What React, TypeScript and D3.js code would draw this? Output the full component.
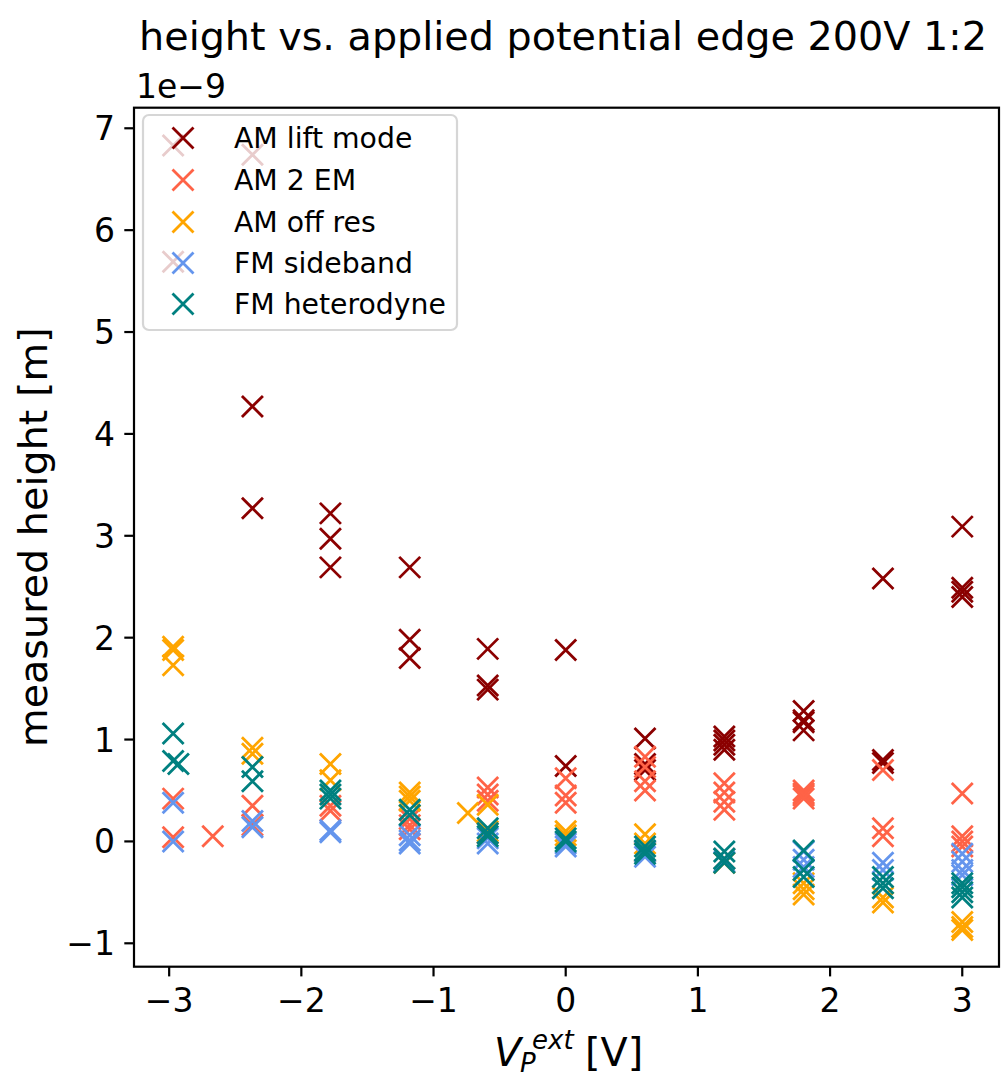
import React from "react";
import * as d3 from "d3";

// values in units of 1e-9 m (axis shows offset "1e−9")
const seriesNames = ["AM lift mode", "AM 2 EM", "AM off res", "FM sideband", "FM heterodyne"];
const seriesColors = ["#8b0000", "#ff6347", "#ffa500", "#6495ed", "#008080"];

const amLiftX = [-2.97, -2.97, -2.37, -2.37, -2.37, -1.78, -1.78, -1.78, -1.18, -1.18, -1.18, -0.59, -0.59, -0.59, 0, 0, 0.6, 0.6, 0.6, 1.2, 1.2, 1.2, 1.2, 1.8, 1.8, 1.8, 1.8, 2.4, 2.4, 2.4, 3.0, 3.0, 3.0, 3.0];
const amLiftY = [6.83, 5.69, 6.74, 4.27, 3.27, 3.22, 2.97, 2.69, 2.69, 1.98, 1.80, 1.89, 1.53, 1.49, 1.88, 0.74, 1.01, 0.76, 0.70, 1.03, 0.99, 0.95, 0.90, 1.28, 1.19, 1.17, 1.09, 2.58, 0.80, 0.77, 3.09, 2.49, 2.45, 2.40];

const am2emX = [-2.97, -2.97, -2.67, -2.37, -2.37, -1.78, -1.78, -1.18, -1.18, -1.18, -0.59, -0.59, -0.59, -0.59, 0, 0, 0, 0.6, 0.6, 0.6, 0.6, 1.2, 1.2, 1.2, 1.2, 1.8, 1.8, 1.8, 1.8, 2.4, 2.4, 2.4, 3.0, 3.0, 3.0, 3.0];
const am2emY = [0.42, 0.04, 0.05, 0.35, 0.16, 0.35, 0.30, 0.22, 0.16, 0.12, 0.53, 0.46, 0.40, 0.08, 0.62, 0.45, 0.38, 0.83, 0.73, 0.59, 0.50, 0.57, 0.48, 0.39, 0.31, 0.50, 0.47, 0.45, 0.42, 0.70, 0.13, 0.05, 0.47, 0.05, 0.00, -0.05];

const amOffX = [-2.97, -2.97, -2.97, -2.37, -2.37, -1.78, -1.78, -1.18, -1.18, -1.18, -0.74, -0.59, -0.59, 0, 0, 0.6, 0.6, 0.6, 1.2, 1.2, 1.8, 1.8, 1.8, 2.4, 2.4, 3.0, 3.0, 3.0];
const amOffY = [1.91, 1.88, 1.73, 0.92, 0.86, 0.76, 0.60, 0.48, 0.44, 0.40, 0.28, 0.36, 0.10, 0.10, 0.06, 0.07, -0.02, -0.10, -0.17, -0.21, -0.41, -0.47, -0.52, -0.55, -0.60, -0.79, -0.84, -0.87];

const fmSideX = [-2.97, -2.97, -2.37, -2.37, -1.78, -1.78, -1.18, -1.18, -1.18, -0.59, -0.59, 0, 0, 0.6, 0.6, 1.2, 1.2, 1.8, 1.8, 1.8, 2.4, 2.4, 3.0, 3.0, 3.0, 3.0];
const fmSideY = [0.38, 0.00, 0.20, 0.14, 0.11, 0.09, 0.06, 0.01, -0.02, 0.03, -0.02, -0.02, -0.05, -0.10, -0.15, -0.17, -0.20, -0.10, -0.18, -0.25, -0.21, -0.28, -0.12, -0.20, -0.28, -0.33];

const fmHetX = [-2.97, -2.97, -2.93, -2.37, -2.37, -1.78, -1.78, -1.78, -1.18, -1.18, -0.59, -0.59, -0.59, 0, 0, 0.6, 0.6, 0.6, 1.2, 1.2, 1.2, 1.8, 1.8, 1.8, 2.4, 2.4, 2.4, 3.0, 3.0, 3.0, 3.0];
const fmHetY = [1.06, 0.79, 0.76, 0.73, 0.59, 0.50, 0.46, 0.42, 0.31, 0.26, 0.13, 0.08, 0.05, 0.03, 0.00, -0.05, -0.09, -0.12, -0.10, -0.17, -0.21, -0.09, -0.28, -0.35, -0.35, -0.41, -0.46, -0.41, -0.45, -0.50, -0.55];

const xTicks = [-3, -2, -1, 0, 1, 2, 3];
const yTicks = [-1, 0, 1, 2, 3, 4, 5, 6, 7];

const seriesX = [amLiftX, am2emX, amOffX, fmSideX, fmHetX];
const seriesY = [amLiftY, am2emY, amOffY, fmSideY, fmHetY];

const W = 1001;
const H = 1079;
const L = 134, R = 999, T = 107.7, B = 966.7;
const FONT = "DejaVu Sans, Liberation Sans, sans-serif";

const fmt = (v: number) => (v < 0 ? "\u2212" + Math.abs(v) : String(v));

export default function App() {
  const x = d3.scaleLinear().domain([-3.266, 3.278]).range([L, R]);
  const y = d3.scaleLinear().domain([-1.2297, 7.202]).range([B, T]);
  const h = 10.5;
  const markerPath = `M${-h},${-h}L${h},${h}M${-h},${h}L${h},${-h}`;
  const sw = 2.8;
  const tickFs = 33;

  const legendRows = [138, 180, 222, 263, 304];

  return (
    <svg width={W} height={H} style={{ position: "absolute", left: 0, top: 0, background: "#fff" }} fontFamily={FONT}>
      <rect x={0} y={0} width={W} height={H} fill="#fff" />
      {/* points */}
      <g>
        {seriesX.map((xs, si) =>
          xs.map((xv, i) => (
            <path
              key={`${si}-${i}`}
              d={markerPath}
              transform={`translate(${x(xv)},${y(seriesY[si][i])})`}
              stroke={seriesColors[si]}
              strokeWidth={sw}
              fill="none"
            />
          ))
        )}
      </g>
      {/* spines */}
      <rect x={L} y={T} width={R - L} height={B - T} fill="none" stroke="#000" strokeWidth={2.2} />
      {/* x ticks */}
      <g>
        {xTicks.map((t) => (
          <g key={t}>
            <line x1={x(t)} x2={x(t)} y1={B} y2={B + 9.7} stroke="#000" strokeWidth={2.2} />
            <text x={x(t)} y={1012} textAnchor="middle" fontSize={tickFs} fill="#000">
              {fmt(t)}
            </text>
          </g>
        ))}
      </g>
      {/* y ticks */}
      <g>
        {yTicks.map((t) => (
          <g key={t}>
            <line x1={L - 9.7} x2={L} y1={y(t)} y2={y(t)} stroke="#000" strokeWidth={2.2} />
            <text x={115} y={y(t) + 12} textAnchor="end" fontSize={tickFs} fill="#000">
              {fmt(t)}
            </text>
          </g>
        ))}
      </g>
      {/* offset text */}
      <text x={136} y={98} fontSize={tickFs} fill="#000">1e{"\u2212"}9</text>
      {/* title */}
      <text x={563} y={50} textAnchor="middle" fontSize={39.7} fill="#000">
        height vs. applied potential edge 200V 1:2
      </text>
      {/* y label */}
      <text transform={`translate(47,${(T + B) / 2}) rotate(-90)`} textAnchor="middle" fontSize={39.7} fill="#000">
        measured height [m]
      </text>
      {/* x label (mathtext) */}
      <g fill="#000">
        <text x={494} y={1066} fontSize={39.7} fontStyle="italic">V</text>
        <text x={520} y={1072} fontSize={26} fontStyle="italic">P</text>
        <text x={532} y={1049} fontSize={26} fontStyle="italic">ext</text>
        <text x={585} y={1066} fontSize={39.7}>[V]</text>
      </g>
      {/* legend */}
      <rect x={143} y={115} width={314} height={215} rx={6} ry={6} fill="#fff" fillOpacity={0.8} stroke="#cccccc" strokeOpacity={0.8} strokeWidth={2.2} />
      {seriesNames.map((n, i) => (
        <g key={n}>
          <path d={markerPath} transform={`translate(183,${legendRows[i]})`} stroke={seriesColors[i]} strokeWidth={sw} fill="none" />
          <text x={234} y={legendRows[i] + 10} fontSize={28.3} fill="#000">{n}</text>
        </g>
      ))}
    </svg>
  );
}
